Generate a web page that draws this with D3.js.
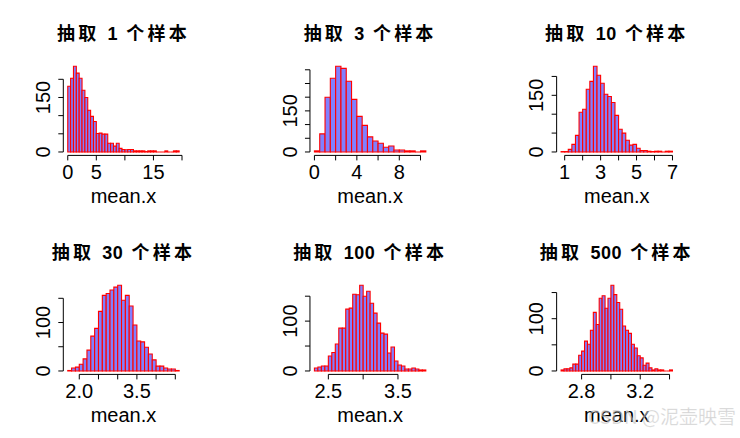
<!DOCTYPE html>
<html><head><meta charset="utf-8">
<script src="https://cdn.jsdelivr.net/npm/d3@7"></script>
<style>body{margin:0;background:#fff}svg{display:block}</style>
</head><body><svg id="c" width="740" height="438"></svg>
<script>
// ---- data ----
const titles = ["抽取 1 个样本","抽取 3 个样本","抽取 10 个样本","抽取 30 个样本","抽取 100 个样本","抽取 500 个样本"];
const binStart = [0, 0, 0.8, 1.7, 2.3, 2.66];
const binWidth = [0.5, 0.5, 0.2, 0.1, 0.05, 0.02];
const counts1 = [181,203,236,217,203,170,150,115,98,84,51,52,49,49,24,24,16,24,10,7,6,7,7,3,3,3,3,1,3,3,3,0,0,0,3,0,0,3,3];
const counts2 = [4,66,200,269,313,305,258,192,130,97,55,40,32,17,22,7,7,4,4,0,4];
const counts3 = [1,1,7,20,44,105,113,166,187,227,203,182,153,147,131,97,60,50,31,18,20,10,4,4,2,1,2,2,0,2,2];
const counts4 = [1,6,8,14,25,43,72,88,123,156,160,167,173,177,146,156,134,95,62,60,49,35,23,10,10,6,4,4,1];
const counts5 = [6,8,10,10,30,37,54,86,86,124,126,154,153,172,150,160,136,116,96,76,74,36,48,20,12,10,4,4,6,4,2,2];
const counts6 = [2,4,4,6,13,13,30,38,57,51,78,112,89,139,144,120,139,164,146,131,118,86,78,72,51,44,29,25,11,15,6,2,4,2,2,0,0,2];
const xTicks = [[0,5,10,15,20],[0,2,4,6,8,10],[1,2,3,4,5,6,7],[2.0,2.5,3.0,3.5,4.0,4.5],[2.5,3.0,3.5],[2.8,3.0,3.2,3.4]];
const xLabels = [["0","5","","15",""],["0","","4","","8",""],["1","","3","","5","","7"],["2.0","","","3.5","",""],["2.5","","3.5"],["2.8","","3.2",""]];
const yTicks = [[0,50,100,150,200],[0,50,100,150,200,250,300],[0,50,100,150,200],[0,50,100,150],[0,50,100,150],[0,50,100,150]];
const yLabels = [["0","","","150",""],["0","","","150","","",""],["0","","","150",""],["0","","100",""],["0","","100",""],["0","","100",""]];
const axisTitle = "mean.x";
const allCounts = [counts1,counts2,counts3,counts4,counts5,counts6];

// ---- layout ----
const svg = d3.select("#c");
const cellW = 740/3, cellH = 219;
const padL = 63.3, plotW = 120.3, padT = 62.8, plotH = 92.6;
const fill = "#8080FF", edge = "#FF0000";
const font = "'Liberation Sans', Arial, 'Noto Sans CJK SC', sans-serif";

allCounts.forEach((counts, p) => {
  const col = p % 3, row = Math.floor(p / 3);
  const x0 = col*cellW + padL, x1 = x0 + plotW;
  const y0 = row*cellH + padT, y1 = y0 + plotH;
  const lo = binStart[p], hi = binStart[p] + counts.length*binWidth[p];
  const ext = (hi - lo)*0.04;
  const xs = d3.scaleLinear().domain([lo-ext, hi+ext]).range([x0, x1]);
  const ymax = d3.max(counts);
  const ys = d3.scaleLinear().domain([-ymax*0.04, ymax*1.04]).range([y1, y0]);
  const g = svg.append("g");

  // bars
  g.selectAll("path.bar").data(counts).join("path")
    .attr("d", (d,i) => {
      const a = xs(lo + i*binWidth[p]), b = xs(lo + (i+1)*binWidth[p]);
      const t = ys(d), z = ys(0);
      return `M${a},${z}L${a},${t}L${b},${t}L${b},${z}Z`;
    })
    .attr("fill", fill).attr("stroke", edge).attr("stroke-width", 1.1);

  // x axis
  const xt = xTicks[p];
  g.append("line").attr("x1", xs(xt[0])).attr("x2", xs(xt[xt.length-1]))
    .attr("y1", y1).attr("y2", y1).attr("stroke", "#000").attr("stroke-width", 1);
  xt.forEach((v, i) => {
    g.append("line").attr("x1", xs(v)).attr("x2", xs(v)).attr("y1", y1).attr("y2", y1+5)
      .attr("stroke", "#000");
    if (xLabels[p][i]) g.append("text").attr("x", xs(v)).attr("y", y1+23.8)
      .attr("text-anchor", "middle").attr("font-family", font).attr("font-size", 20)
      .text(xLabels[p][i]);
  });
  // y axis
  const yt = yTicks[p];
  g.append("line").attr("x1", x0).attr("x2", x0)
    .attr("y1", ys(yt[0])).attr("y2", ys(yt[yt.length-1])).attr("stroke", "#000");
  yt.forEach((v, i) => {
    g.append("line").attr("x1", x0).attr("x2", x0-5).attr("y1", ys(v)).attr("y2", ys(v))
      .attr("stroke", "#000");
    if (yLabels[p][i]) g.append("text")
      .attr("transform", `translate(${x0-13.3},${ys(v)}) rotate(-90)`)
      .attr("text-anchor", "middle").attr("font-family", font).attr("font-size", 20)
      .text(yLabels[p][i]);
  });
  // titles: CJK spaced, digits tight
  const tt = g.append("text").attr("x", (x0+x1)/2).attr("y", row*cellH + 40)
    .attr("text-anchor", "middle").attr("font-family", font).attr("font-weight", "bold")
    .attr("font-size", 18);
  titles[p].match(/\d+|[^\d]+/g).forEach(part => {
    tt.append("tspan").attr("letter-spacing", /\d/.test(part) ? 0.5 : 3.2).text(part);
  });
  g.append("text").attr("x", (x0+x1)/2).attr("y", y1 + 48)
    .attr("text-anchor", "middle").attr("font-family", font).attr("font-size", 20)
    .text(axisTitle);
});

// watermark
svg.append("text").attr("x", 736).attr("y", 424).attr("text-anchor", "end")
  .attr("font-family", "'Noto Sans CJK SC', sans-serif").attr("font-size", 19)
  .attr("fill", "rgba(170,170,170,0.5)").attr("stroke", "rgba(255,255,255,0.5)")
  .attr("stroke-width", 0.5).text("CSDN @泥壶映雪");
</script></body></html>
